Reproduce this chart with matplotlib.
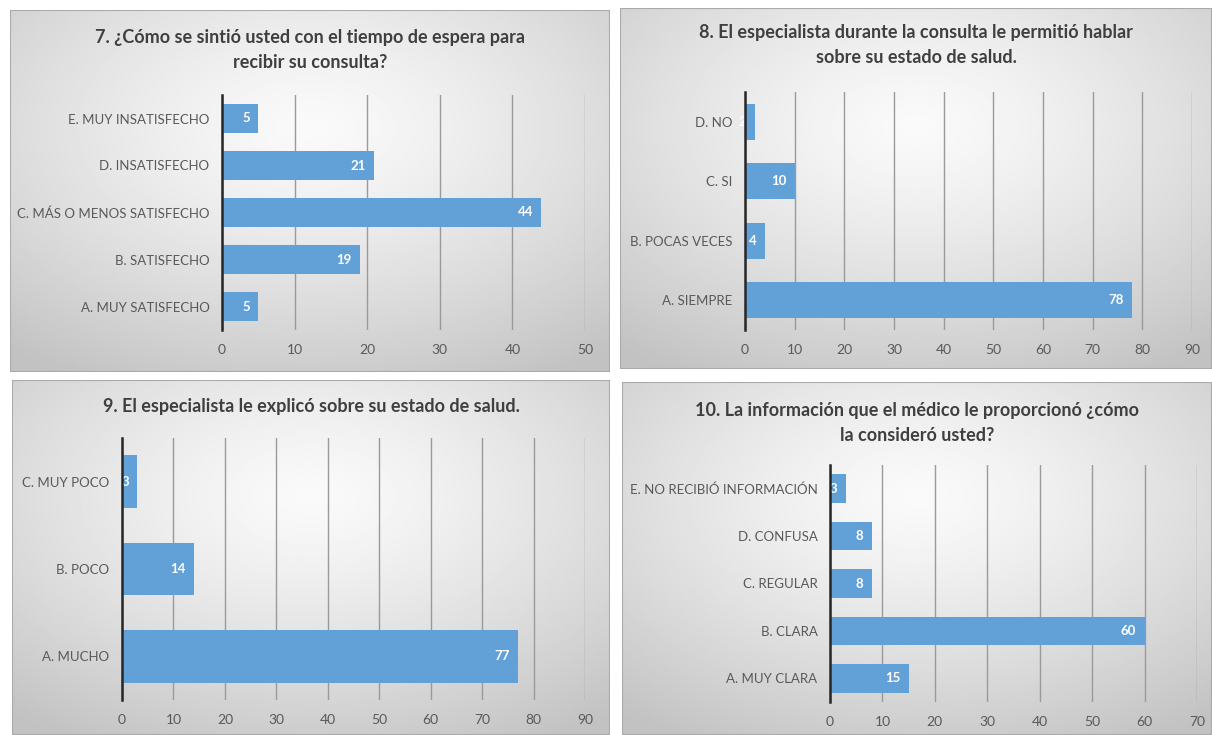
import matplotlib
matplotlib.use("Agg")
import matplotlib.pyplot as plt
from matplotlib.patches import Rectangle
import numpy as np

W, H = 1212, 735
plt.rcParams['font.family'] = ['Lato', 'DejaVu Sans']

# data
cats7 = ['A. MUY SATISFECHO', 'B. SATISFECHO', 'C. MÁS O MENOS SATISFECHO',
         'D. INSATISFECHO', 'E. MUY INSATISFECHO']
vals7 = [5, 19, 44, 21, 5]
title7 = '7. ¿Cómo se sintió usted con el tiempo de espera para\nrecibir su consulta?'

cats8 = ['A. SIEMPRE', 'B. POCAS VECES', 'C. SI', 'D. NO']
vals8 = [78, 4, 10, 2]
title8 = '8. El especialista durante la consulta le permitió hablar\nsobre su estado de salud.'

cats9 = ['A. MUCHO', 'B. POCO', 'C. MUY POCO']
vals9 = [77, 14, 3]
title9 = '9. El especialista le explicó sobre su estado de salud.'

cats10 = ['A. MUY CLARA', 'B. CLARA', 'C. REGULAR', 'D. CONFUSA',
          'E. NO RECIBIÓ INFORMACIÓN']
vals10 = [15, 60, 8, 8, 3]
title10 = '10. La información que el médico le proporcionó ¿cómo\nla consideró usted?'

bar_color = '#62a0d8'
grid_color = '#9a9a9a'
text_color = '#595959'


def rect(x0, y0, x1, y1):
    # pixel box (top-left origin) -> figure fraction
    return [x0 / W, 1 - y1 / H, (x1 - x0) / W, (y1 - y0) / H]


def panel(fig, box, plot, cats, vals, xmax, title, title_y, bar_h=0.6):
    # background with radial grey gradient
    bg = fig.add_axes(rect(*box))
    yy, xx = np.mgrid[-1:1:200j, -1:1:300j]
    r = np.sqrt(xx ** 2 + (yy + 0.35) ** 2) / 1.6
    shade = 0.98 - 0.22 * np.clip(r, 0, 1) ** 1.3
    bg.imshow(shade, cmap='gray', vmin=0, vmax=1, aspect='auto',
              extent=[0, 1, 0, 1], interpolation='bilinear')
    bg.add_patch(Rectangle((0, 0), 1, 1, transform=bg.transAxes, fill=False,
                           edgecolor='#aaaaaa', lw=1.5))
    bg.set_xlim(0, 1)
    bg.set_ylim(0, 1)
    bg.axis('off')

    ax = fig.add_axes(rect(*plot))
    ax.patch.set_alpha(0)
    y = np.arange(len(cats))
    ax.barh(y, vals, height=bar_h, color=bar_color, zorder=3)
    for yi, v in zip(y, vals):
        ax.annotate(str(v), (v, yi), xytext=(-6, 0), textcoords='offset points',
                    ha='right', va='center', color='white', fontsize=9.5,
                    fontweight='bold', zorder=4)
    ax.set_xlim(0, xmax)
    ax.set_ylim(-0.5, len(cats) - 0.5)
    ax.set_xticks(range(0, xmax + 1, 10))
    ax.set_yticks(y)
    ax.set_yticklabels(cats)
    ax.grid(axis='x', color=grid_color, lw=1, zorder=0)
    for s in ['top', 'right', 'bottom']:
        ax.spines[s].set_visible(False)
    ax.spines['left'].set_color('#262626')
    ax.spines['left'].set_linewidth(1.8)
    ax.spines['left'].set_zorder(5)
    ax.tick_params(axis='y', length=0, labelsize=9.5, colors=text_color, pad=9)
    ax.tick_params(axis='x', length=0, labelsize=10, colors=text_color, pad=10)

    cx = (box[0] + box[2]) / 2
    fig.text(cx / W, 1 - title_y / H, title, ha='center', va='top',
             fontsize=13, fontweight='bold', color='#3f3f3f', linespacing=1.6)


fig = plt.figure(figsize=(W / 100, H / 100), dpi=100)
fig.patch.set_facecolor('white')

panel(fig, (10, 10, 610, 372), (222, 95, 585, 330), cats7, vals7, 50, title7, 29)
panel(fig, (620, 8, 1212, 369), (745, 92, 1192, 330), cats8, vals8, 90, title8, 24)
panel(fig, (12, 380, 610, 735), (122, 438, 585, 700), cats9, vals9, 90, title9, 398)
panel(fig, (622, 382, 1212, 735), (830, 465, 1197, 702), cats10, vals10, 70, title10, 402)

fig.savefig('out.png', dpi=100)
